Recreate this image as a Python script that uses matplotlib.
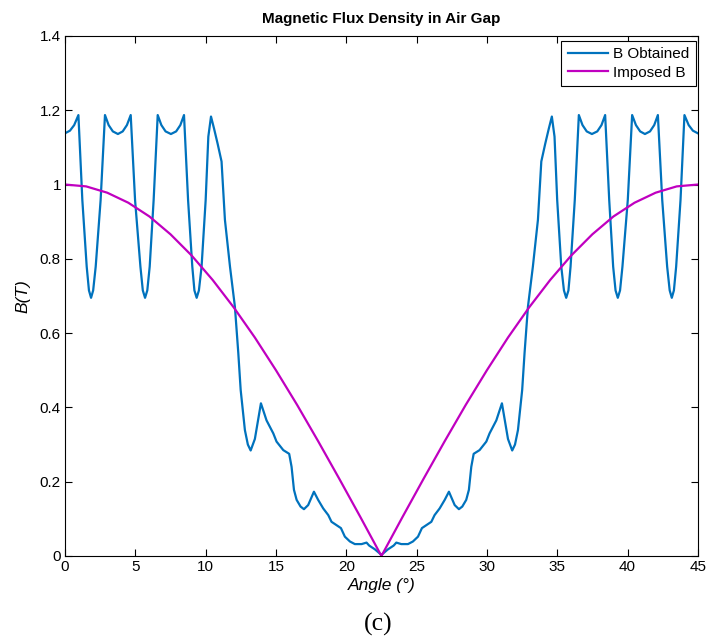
"""Magnetic flux density in the air gap: obtained vs imposed B."""

import matplotlib

matplotlib.use("Agg")

import matplotlib.pyplot as plt
from matplotlib.ticker import FormatStrFormatter

# B obtained (angle in degrees, B in tesla)
angle_obtained = [
    0.00, 0.35, 0.65, 0.95, 1.23, 1.54, 1.70, 1.85, 2.00, 2.18,
    2.53, 2.84, 3.10, 3.40, 3.76, 4.10, 4.40, 4.67, 4.98, 5.36,
    5.53, 5.69, 5.85, 6.02, 6.30, 6.59, 6.85, 7.15, 7.53, 7.90,
    8.20, 8.46, 8.75, 9.05, 9.20, 9.36, 9.52, 9.71, 10.00, 10.19,
    10.38, 10.60, 10.85, 11.13, 11.37, 11.73, 12.08, 12.32, 12.49, 12.79,
    13.00, 13.20, 13.50, 13.93, 14.33, 14.81, 15.04, 15.52, 15.94, 16.11,
    16.28, 16.47, 16.75, 16.99, 17.29, 17.70, 18.00, 18.36, 18.72, 18.95,
    19.31, 19.62, 19.90, 20.26, 20.61, 21.09, 21.44, 21.63, 22.03, 22.50,
    22.97, 23.37, 23.56, 23.91, 24.39, 24.74, 25.10, 25.38, 25.69, 26.05,
    26.28, 26.64, 27.00, 27.30, 27.71, 28.01, 28.25, 28.53, 28.72, 28.89,
    29.06, 29.48, 29.96, 30.19, 30.67, 31.07, 31.50, 31.80, 32.00, 32.21,
    32.51, 32.68, 32.92, 33.27, 33.63, 33.87, 34.15, 34.40, 34.62, 34.81,
    35.00, 35.29, 35.48, 35.64, 35.80, 35.95, 36.25, 36.54, 36.80, 37.10,
    37.47, 37.85, 38.15, 38.41, 38.70, 38.98, 39.15, 39.31, 39.47, 39.64,
    40.02, 40.33, 40.60, 40.90, 41.24, 41.60, 41.90, 42.16, 42.47, 42.82,
    43.00, 43.15, 43.30, 43.46, 43.77, 44.05, 44.35, 44.65, 45.00,
]
b_obtained = [
    1.138, 1.145, 1.160, 1.187, 0.958, 0.779, 0.715, 0.695, 0.715, 0.779,
    0.958, 1.187, 1.160, 1.143, 1.136, 1.143, 1.160, 1.187, 0.958, 0.779,
    0.715, 0.695, 0.715, 0.779, 0.958, 1.187, 1.160, 1.143, 1.136, 1.143,
    1.160, 1.187, 0.958, 0.779, 0.715, 0.695, 0.715, 0.779, 0.958, 1.129,
    1.183, 1.150, 1.110, 1.062, 0.905, 0.779, 0.671, 0.547, 0.447, 0.339,
    0.300, 0.284, 0.315, 0.411, 0.365, 0.330, 0.308, 0.285, 0.275, 0.240,
    0.178, 0.151, 0.133, 0.126, 0.137, 0.173, 0.151, 0.128, 0.110, 0.092,
    0.083, 0.075, 0.052, 0.039, 0.032, 0.032, 0.036, 0.028, 0.018, 0.003,
    0.018, 0.028, 0.036, 0.032, 0.032, 0.039, 0.052, 0.075, 0.083, 0.092,
    0.110, 0.128, 0.151, 0.173, 0.137, 0.126, 0.133, 0.151, 0.178, 0.240,
    0.275, 0.285, 0.308, 0.330, 0.365, 0.411, 0.315, 0.284, 0.300, 0.339,
    0.447, 0.547, 0.671, 0.779, 0.905, 1.062, 1.110, 1.150, 1.183, 1.129,
    0.958, 0.779, 0.715, 0.695, 0.715, 0.779, 0.958, 1.187, 1.160, 1.143,
    1.136, 1.143, 1.160, 1.187, 0.958, 0.779, 0.715, 0.695, 0.715, 0.779,
    0.958, 1.187, 1.160, 1.143, 1.136, 1.143, 1.160, 1.187, 0.958, 0.779,
    0.715, 0.695, 0.715, 0.779, 0.958, 1.187, 1.160, 1.145, 1.138,
]

# Imposed B
angle_imposed = [
    0.0, 1.5, 3.0, 4.5, 6.0, 7.5, 9.0, 10.5, 12.0, 13.5, 15.0, 16.5,
    18.0, 19.5, 21.0, 22.5, 24.0, 25.5, 27.0, 28.5, 30.0, 31.5, 33.0,
    34.5, 36.0, 37.5, 39.0, 40.5, 42.0, 43.5, 45.0,
]
b_imposed = [
    1.000, 0.995, 0.978, 0.951, 0.914, 0.866, 0.809, 0.743, 0.669, 0.588,
    0.500, 0.407, 0.309, 0.208, 0.105, 0.000, 0.105, 0.208, 0.309, 0.407,
    0.500, 0.588, 0.669, 0.743, 0.809, 0.866, 0.914, 0.951, 0.978, 0.995,
    1.000,
]

x_ticks = [0, 5, 10, 15, 20, 25, 30, 35, 40, 45]
y_ticks = [0, 0.2, 0.4, 0.6, 0.8, 1.0, 1.2, 1.4]

plt.rcParams["font.family"] = ["Liberation Sans", "DejaVu Sans"]

fig = plt.figure(figsize=(7.07, 6.42), dpi=100)
ax = fig.add_axes([0.092, 0.134, 0.895, 0.81])

ax.plot(angle_obtained, b_obtained, color="#0072bd", linewidth=1.6, label="B Obtained")
ax.plot(angle_imposed, b_imposed, color="#c000c0", linewidth=1.6, label="Imposed B")

ax.set_xlim(0, 45)
ax.set_ylim(0, 1.4)
ax.set_xticks(x_ticks)
ax.set_yticks(y_ticks)
ax.yaxis.set_major_formatter(FormatStrFormatter("%g"))
ax.tick_params(direction="in", top=True, right=True, length=5, width=0.8,
               labelsize=11, pad=3)
for spine in ax.spines.values():
    spine.set_linewidth(0.8)

ax.set_title("Magnetic Flux Density in Air Gap", fontweight="bold", fontsize=11, pad=9.5)
ax.set_xlabel("Angle (°)", fontstyle="italic", fontsize=12.5, labelpad=3)
ax.set_ylabel("B(T)", fontstyle="italic", fontsize=12.5, labelpad=7)

leg = ax.legend(
    loc="upper right",
    bbox_to_anchor=(0.9964, 0.9904),
    frameon=True,
    fancybox=False,
    framealpha=1,
    edgecolor="black",
    fontsize=11,
    borderpad=0.42,
    handlelength=2.6,
    handletextpad=0.35,
    labelspacing=0.28,
    borderaxespad=0,
)
leg.get_frame().set_linewidth(0.8)

fig.text(378 / 707, 0.027, "(c)", fontfamily="Liberation Serif", fontsize=18.5,
         ha="center", va="center")

fig.savefig("out.png", dpi=100)
